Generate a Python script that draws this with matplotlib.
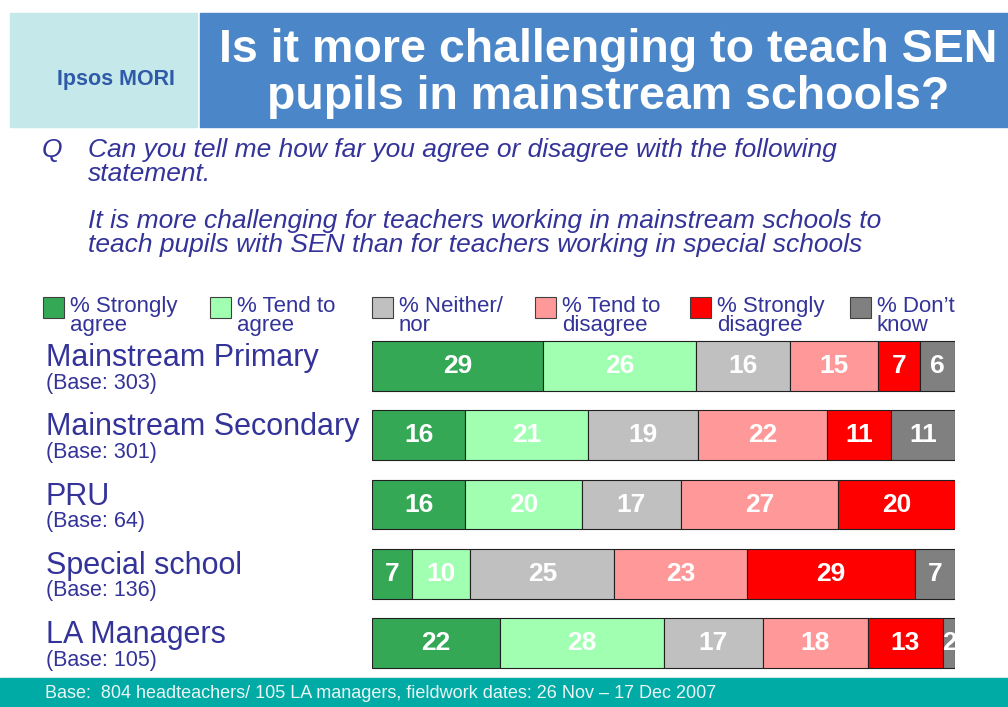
import numpy as np
import matplotlib
matplotlib.use("Agg")
from matplotlib import pyplot as plt
from matplotlib.patches import Rectangle

groups = ["Mainstream Primary", "Mainstream Secondary", "PRU", "Special school", "LA Managers"]
bases = ["(Base: 303)", "(Base: 301)", "(Base: 64)", "(Base: 136)", "(Base: 105)"]
categories = ["% Strongly\nagree", "% Tend to\nagree", "% Neither/\nnor",
              "% Tend to\ndisagree", "% Strongly\ndisagree", "% Don\u2019t\nknow"]
strongly_agree = [29, 16, 16, 7, 22]
tend_agree = [26, 21, 20, 10, 28]
neither = [16, 19, 17, 25, 17]
tend_disagree = [15, 22, 27, 23, 18]
strongly_disagree = [7, 11, 20, 29, 13]
dont_know = [6, 11, 0, 7, 2]

colors = ["#35A856", "#A0FFB0", "#C0C0C0", "#FF9999", "#FF0000", "#808080"]
TXT = "#333399"

plt.rcParams["font.family"] = ["Liberation Sans", "DejaVu Sans"]

W, H = 1008, 707
fig = plt.figure(figsize=(W / 100, H / 100), dpi=100)


def fx(px):
    return px / W


def fy(py):
    return 1 - py / H


# header boxes
fig.patches.append(Rectangle((fx(10), fy(127)), fx(187), 114 / H, transform=fig.transFigure,
                             color="#C5E8EA", zorder=0))
fig.patches.append(Rectangle((fx(200), fy(127)), fx(808), 114 / H, transform=fig.transFigure,
                             color="#4A86C8", zorder=0))
fig.text(fx(116), fy(79), "Ipsos MORI", color="#2E5AA8", fontsize=15.5, fontweight="bold",
         ha="center", va="center")
fig.text(fx(608), fy(50), "Is it more challenging to teach SEN", color="white", fontsize=33.5,
         fontweight="bold", ha="center", va="center")
fig.text(fx(608), fy(97), "pupils in mainstream schools?", color="white", fontsize=33.5,
         fontweight="bold", ha="center", va="center")

# question
qkw = dict(color=TXT, fontsize=19, style="italic", va="center")
fig.text(fx(42), fy(150), "Q", **qkw)
fig.text(fx(88), fy(150), "Can you tell me how far you agree or disagree with the following", **qkw)
fig.text(fx(88), fy(174), "statement.", **qkw)
fig.text(fx(88), fy(221), "It is more challenging for teachers working in mainstream schools to", **qkw)
fig.text(fx(88), fy(245), "teach pupils with SEN than for teachers working in special schools", **qkw)

# legend
sq_x = [43, 210, 372, 535, 690, 850]
for i, lab in enumerate(categories):
    fig.patches.append(Rectangle((fx(sq_x[i]), fy(318)), fx(21), 21 / H, transform=fig.transFigure,
                                 facecolor=colors[i], edgecolor="#404040", lw=0.8))
    top, bottom = lab.split("\n")
    fig.text(fx(sq_x[i] + 27), fy(306), top, color=TXT, fontsize=16, va="center")
    fig.text(fx(sq_x[i] + 27), fy(326), bottom, color=TXT, fontsize=16, va="center")

# bars
ax = fig.add_axes([fx(372), fy(678), fx(583), 347 / H])
data = np.array([strongly_agree, tend_agree, neither, tend_disagree, strongly_disagree, dont_know],
                dtype=float)
shares = data / data.sum(axis=0) * 100
y = np.arange(len(groups))
left = np.zeros(len(groups))
for i in range(len(categories)):
    ax.barh(y, shares[i], left=left, height=0.72, color=colors[i], edgecolor="#202020", lw=0.8)
    for j in range(len(groups)):
        if data[i, j] > 0:
            ax.text(left[j] + shares[i, j] / 2, y[j], f"{int(data[i, j])}", color="white",
                    fontsize=19, fontweight="bold", ha="center", va="center")
    left += shares[i]
ax.set_xlim(0, 100)
ax.set_ylim(len(groups) - 0.5, -0.5)
ax.axis("off")

# row labels
for j, (g, b) in enumerate(zip(groups, bases)):
    yc = 366 + j * 69.3
    fig.text(fx(46), fy(yc - 8), g, color=TXT, fontsize=22, va="center")
    fig.text(fx(46), fy(yc + 17), b, color=TXT, fontsize=15.5, va="center")

# footer
fig.patches.append(Rectangle((0, 0), 1, 29 / H, transform=fig.transFigure, color="#00AAA5"))
fig.text(fx(45), fy(693), "Base:  804 headteachers/ 105 LA managers, fieldwork dates: 26 Nov \u2013 17 Dec 2007",
         color="#EAF6F6", fontsize=13, va="center")

fig.savefig("out.png", dpi=100)
